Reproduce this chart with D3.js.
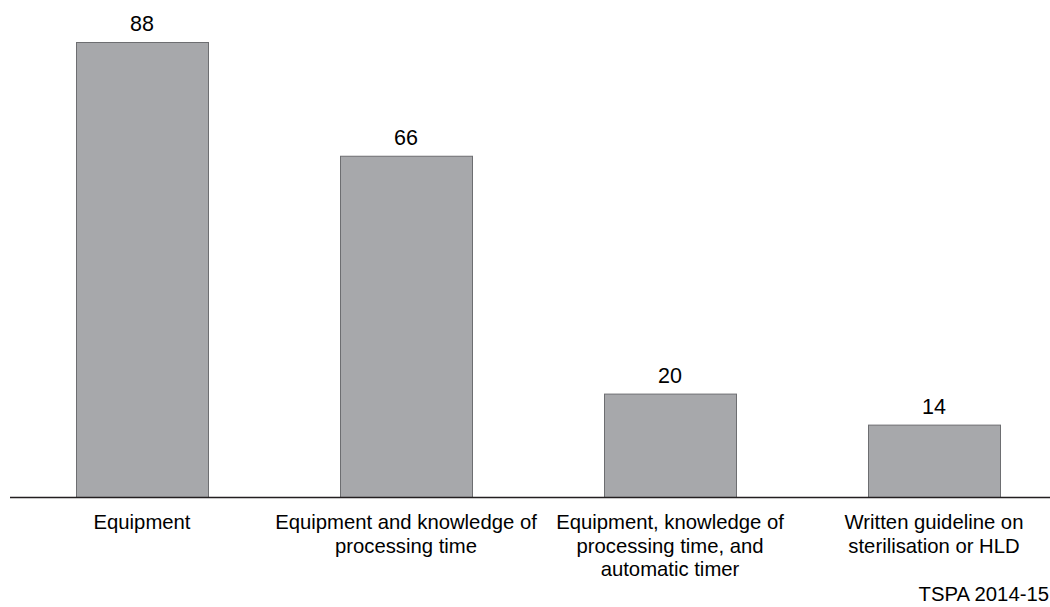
<!DOCTYPE html>
<html>
<head>
<meta charset="utf-8">
<script src="https://cdn.jsdelivr.net/npm/d3@7"></script>
<style>
  html, body { margin: 0; padding: 0; background: #fff; }
  svg { display: block; }
  text { font-family: "Liberation Sans", Arial, sans-serif; fill: #000; }
</style>
</head>
<body>
<svg id="chart" width="1050" height="607"></svg>
<script>
const categories = [
  "Equipment",
  "Equipment and knowledge of processing time",
  "Equipment, knowledge of processing time, and automatic timer",
  "Written guideline on sterilisation or HLD"
];
const categoryLines = [
  ["Equipment"],
  ["Equipment and knowledge of", "processing time"],
  ["Equipment, knowledge of", "processing time, and", "automatic timer"],
  ["Written guideline on", "sterilisation or HLD"]
];
const values = [88, 66, 20, 14];
const sourceNote = "TSPA 2014-15";

const W = 1050, H = 607;
const baseY = 497;
const svg = d3.select("#chart");

const x = d3.scaleBand()
  .domain(categories)
  .range([10, 1066])
  .paddingInner(0.5)
  .paddingOuter(0.25);

const y = d3.scaleLinear()
  .domain([0, 88])
  .range([baseY, 42]);

// bars
svg.append("g").selectAll("rect")
  .data(values)
  .join("rect")
  .attr("x", (d, i) => x(categories[i]) + 0.5)
  .attr("y", d => y(d) + 0.5)
  .attr("width", x.bandwidth())
  .attr("height", d => baseY - y(d))
  .attr("fill", "#a7a8ab")
  .attr("stroke", "#6d6e71")
  .attr("stroke-width", 1);

// value labels
svg.append("g").selectAll("text")
  .data(values)
  .join("text")
  .attr("x", (d, i) => x(categories[i]) + x.bandwidth() / 2)
  .attr("y", d => y(d) - 11)
  .attr("text-anchor", "middle")
  .attr("font-size", 21.5)
  .text(d => d);

// axis line
svg.append("line")
  .attr("x1", 10).attr("x2", W)
  .attr("y1", baseY + 0.5).attr("y2", baseY + 0.5)
  .attr("stroke", "#231f20")
  .attr("stroke-width", 1.6);

// category labels
const lab = svg.append("g").selectAll("text")
  .data(categories)
  .join("text")
  .attr("x", d => x(d) + x.bandwidth() / 2)
  .attr("y", 529)
  .attr("text-anchor", "middle")
  .attr("font-size", 20.3);
lab.each(function(d, i) {
  d3.select(this).selectAll("tspan")
    .data(categoryLines[i])
    .join("tspan")
    .attr("x", x(d) + x.bandwidth() / 2)
    .attr("dy", (t, j) => j === 0 ? 0 : 23.5)
    .text(t => t);
});

// source note
svg.append("text")
  .attr("x", W - 1)
  .attr("y", 601)
  .attr("text-anchor", "end")
  .attr("font-size", 20.3)
  .text(sourceNote);
</script>
</body>
</html>
